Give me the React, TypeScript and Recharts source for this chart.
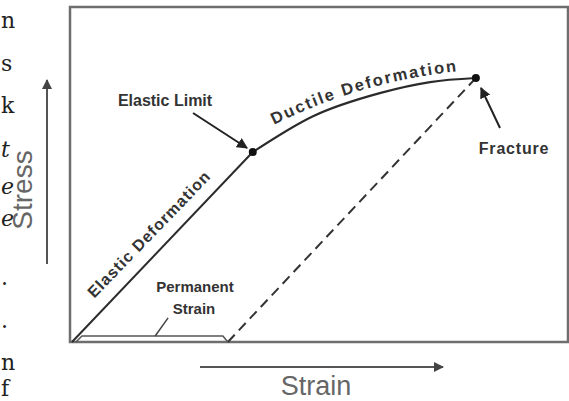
import * as React from 'react';
import { ComposedChart, Line, Scatter, XAxis, YAxis, ReferenceArea } from 'recharts';

// strain / stress in arbitrary units (0–100 on both axes)
const elasticSegment = [
  { strain: 0.4, stress: 0 },
  { strain: 36.7, stress: 56.7 },
];

const ductileSegment = [
  { strain: 36.7, stress: 56.7 },
  { strain: 48.8, stress: 67.4 },
  { strain: 62.2, stress: 74.3 },
  { strain: 72.3, stress: 77.6 },
  { strain: 81.5, stress: 78.8 },
];

const unloadSegment = [
  { strain: 31.7, stress: 0 },
  { strain: 81.5, stress: 78.8 },
];

const keyPoints = [
  { strain: 36.7, stress: 56.7, name: 'Elastic Limit' },
  { strain: 81.5, stress: 78.8, name: 'Fracture' },
];

const permanentBracket = [
  { strain: 1.2, stress: 0 },
  { strain: 2.4, stress: 1.8 },
  { strain: 30.7, stress: 1.8 },
  { strain: 31.7, stress: 0 },
];

const bracketPointer = [
  { strain: 17.1, stress: 1.8 },
  { strain: 19.7, stress: 7.2 },
];

// ends of lines from the neighbouring text column
const marginChars = ['n', 's', 'k', 't', 'e', 'e', '.', '.', 'n', 'f'];
const marginItalic = [false, false, false, true, true, true, false, false, false, false];
const marginBaselines = [28, 71, 113, 157, 194, 226, 285, 328, 370, 396];

const INK = '#2b2b2b';
const LABEL_FONT = '"Liberation Sans", Arial, sans-serif';

const Dot = (props: any) => <circle cx={props.cx} cy={props.cy} r={4} fill="#111" />;

export default function App() {
  return (
    <div style={{ position: 'absolute', left: 0, top: 0, width: 569, height: 401, background: '#fff' }}>
      <ComposedChart width={569} height={401} margin={{ top: 7, right: 1, bottom: 59, left: 70 }}>
        <defs>
          <marker id="head" viewBox="0 0 10 10" refX="9" refY="5" markerWidth="11" markerHeight="11"
            markerUnits="userSpaceOnUse" orient="auto">
            <path d="M0 0 L10 5 L0 10 Z" fill="#222" />
          </marker>
          <marker id="axisHead" viewBox="0 0 10 10" refX="9" refY="5" markerWidth="12" markerHeight="10"
            markerUnits="userSpaceOnUse" orient="auto">
            <path d="M0 0 L10 5 L0 10 Z" fill="#444" />
          </marker>
          <path id="ductilePath" d="M262 131 Q360 79 472 70" fill="none" />
        </defs>

        <XAxis dataKey="strain" type="number" domain={[0, 100]} hide />
        <YAxis type="number" domain={[0, 100]} hide />

        <ReferenceArea x1={0} x2={100} y1={0} y2={100} fill="none" stroke="#6e6e6e" strokeWidth={2.5} />

        <Line data={elasticSegment} dataKey="stress" type="linear" stroke={INK} strokeWidth={2}
          dot={false} activeDot={false} isAnimationActive={false} />
        <Line data={ductileSegment} dataKey="stress" type="monotone" stroke={INK} strokeWidth={2.2}
          dot={false} activeDot={false} isAnimationActive={false} />
        <Line data={unloadSegment} dataKey="stress" type="linear" stroke="#333" strokeWidth={2}
          strokeDasharray="10 6" dot={false} activeDot={false} isAnimationActive={false} />
        <Line data={permanentBracket} dataKey="stress" type="linear" stroke="#555" strokeWidth={1.5}
          dot={false} activeDot={false} isAnimationActive={false} />
        <Line data={bracketPointer} dataKey="stress" type="linear" stroke="#444" strokeWidth={1.5}
          dot={false} activeDot={false} isAnimationActive={false} />
        <Scatter data={keyPoints} dataKey="stress" shape={<Dot />} isAnimationActive={false} />

        {/* labels on the diagram */}
        <g fontFamily={LABEL_FONT} fontWeight="bold" fill="#333">
          <text x={165} y={106} fontSize={16} textAnchor="middle">Elastic Limit</text>
          <text x={514} y={154} fontSize={16} textAnchor="middle" letterSpacing={0.8}>Fracture</text>
          <text x={195} y={292} fontSize={15} textAnchor="middle">Permanent</text>
          <text x={194} y={314} fontSize={15} textAnchor="middle">Strain</text>
          <text transform="translate(153 238) rotate(-46)" fontSize={16} textAnchor="middle" letterSpacing={1}>
            Elastic Deformation
          </text>
          <text fontSize={16.5} letterSpacing={1.9}>
            <textPath href="#ductilePath" startOffset="50%" textAnchor="middle">Ductile Deformation</textPath>
          </text>
        </g>
        <line x1={193} y1={113} x2={247} y2={148} stroke="#222" strokeWidth={2} markerEnd="url(#head)" />
        <line x1={500} y1={128} x2={481} y2={88} stroke="#222" strokeWidth={2} markerEnd="url(#head)" />

        {/* axis titles with arrows */}
        <text transform="translate(32 190) rotate(-90)" fontSize={28} fontFamily={LABEL_FONT} fill="#666"
          textAnchor="middle">Stress</text>
        <line x1={47} y1={264} x2={47} y2={80} stroke="#555" strokeWidth={2} markerEnd="url(#axisHead)" />
        <text x={316} y={395} fontSize={27} fontFamily={LABEL_FONT} fill="#666" textAnchor="middle">Strain</text>
        <line x1={200} y1={367} x2={443} y2={367} stroke="#555" strokeWidth={2} markerEnd="url(#axisHead)" />

        <g fontFamily='"DejaVu Serif", serif' fontSize={22} fill="#222">
          {marginChars.map((c, i) => (
            <text key={i} x={1} y={marginBaselines[i]} fontStyle={marginItalic[i] ? 'italic' : 'normal'}>{c}</text>
          ))}
        </g>
      </ComposedChart>
    </div>
  );
}
